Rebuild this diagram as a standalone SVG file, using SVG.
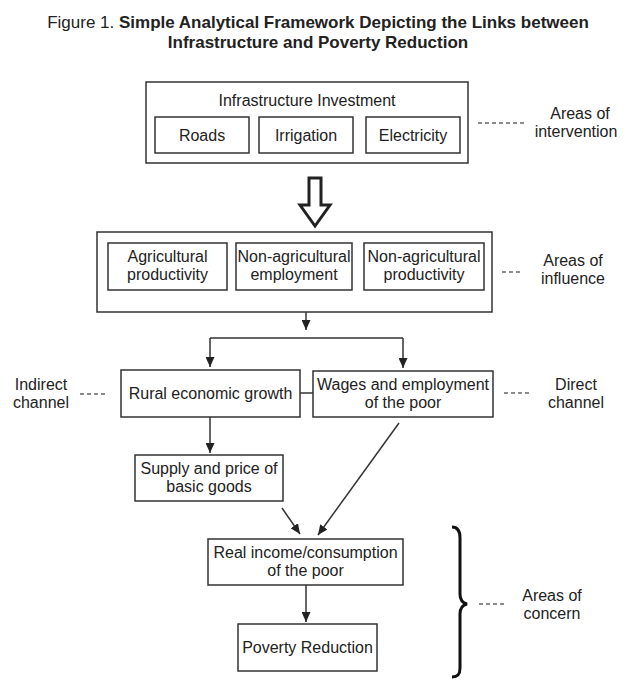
<svg xmlns="http://www.w3.org/2000/svg" width="631" height="680" viewBox="0 0 631 680">
<style>
  .box { fill: #fff; stroke: #333; stroke-width: 1.5; }
  .t { font-family: "Liberation Sans", Arial, sans-serif; font-size: 16px; fill: #222; text-anchor: middle; }
  .title { font-family: "Liberation Sans", Arial, sans-serif; font-size: 17px; fill: #222; text-anchor: middle; }
  .conn { fill: none; stroke: #333; stroke-width: 1.5; }
  .dash { fill: none; stroke: #666; stroke-width: 1.5; stroke-dasharray: 4 3; }
</style>
<defs>
  <marker id="ah" markerUnits="userSpaceOnUse" markerWidth="10" markerHeight="9" refX="10" refY="4.5" orient="auto">
    <path d="M0,0 L10,4.5 L0,9 z" fill="#222"/>
  </marker>
</defs>
<rect width="631" height="680" fill="#fff"/>

<g id="title">
  <text class="title" x="318" y="28"><tspan>Figure 1. </tspan><tspan font-weight="bold">Simple Analytical Framework Depicting the Links between</tspan></text>
  <text class="title" x="318" y="48" font-weight="bold">Infrastructure and Poverty Reduction</text>
</g>

<g id="infrastructure-investment">
  <rect class="box" x="146" y="82" width="322" height="81"/>
  <text class="t" x="307" y="106">Infrastructure Investment</text>
</g>
<g id="roads">
  <rect class="box" x="155" y="117" width="94" height="36"/>
  <text class="t" x="202" y="141">Roads</text>
</g>
<g id="irrigation">
  <rect class="box" x="259" y="117" width="94" height="36"/>
  <text class="t" x="306" y="141">Irrigation</text>
</g>
<g id="electricity">
  <rect class="box" x="366" y="117" width="94" height="36"/>
  <text class="t" x="413" y="141">Electricity</text>
</g>
<g id="label-intervention">
  <line class="dash" x1="478" y1="123" x2="527" y2="123"/>
  <text class="t" x="580" y="119">Areas of</text>
  <text class="t" x="576" y="137">intervention</text>
</g>

<g id="areas-of-influence">
  <rect class="box" x="97" y="232" width="395" height="80"/>
</g>
<g id="agricultural-productivity">
  <rect class="box" x="108" y="243" width="119" height="47"/>
  <text class="t" x="167.5" y="262">Agricultural</text>
  <text class="t" x="167.5" y="280">productivity</text>
</g>
<g id="non-agricultural-employment">
  <rect class="box" x="236" y="243" width="116" height="47"/>
  <text class="t" x="294" y="262">Non-agricultural</text>
  <text class="t" x="294" y="280">employment</text>
</g>
<g id="non-agricultural-productivity">
  <rect class="box" x="364" y="243" width="120" height="47"/>
  <text class="t" x="424" y="262">Non-agricultural</text>
  <text class="t" x="424" y="280">productivity</text>
</g>
<g id="label-influence">
  <line class="dash" x1="502" y1="272" x2="521" y2="272"/>
  <text class="t" x="573" y="266">Areas of</text>
  <text class="t" x="573" y="284">influence</text>
</g>

<g id="rural-economic-growth">
  <rect class="box" x="121" y="370" width="179" height="47"/>
  <text class="t" x="210.5" y="399">Rural economic growth</text>
</g>
<g id="wages-employment">
  <rect class="box" x="313" y="371" width="180" height="46"/>
  <text class="t" x="403" y="390">Wages and employment</text>
  <text class="t" x="403" y="408">of the poor</text>
</g>
<g id="label-indirect">
  <text class="t" x="41" y="390">Indirect</text>
  <text class="t" x="41" y="408">channel</text>
  <line class="dash" x1="80" y1="394" x2="107" y2="394"/>
</g>
<g id="label-direct">
  <line class="dash" x1="504" y1="393" x2="532" y2="393"/>
  <text class="t" x="576" y="390">Direct</text>
  <text class="t" x="576" y="408">channel</text>
</g>

<g id="supply-price">
  <rect class="box" x="135" y="455" width="148" height="46"/>
  <text class="t" x="209" y="474">Supply and price of</text>
  <text class="t" x="209" y="492">basic goods</text>
</g>
<g id="real-income">
  <rect class="box" x="208" y="539" width="195" height="46"/>
  <text class="t" x="305.5" y="558">Real income/consumption</text>
  <text class="t" x="305.5" y="576">of the poor</text>
</g>
<g id="poverty-reduction">
  <rect class="box" x="238" y="624" width="139" height="47"/>
  <text class="t" x="307.5" y="653">Poverty Reduction</text>
</g>
<g id="label-concern">
  <path d="M452,527 C458,527 460,531 460,538 L460,594 C460,600 463,603 467,604 C463,605 460,608 460,614 L460,668 C460,674 458,677 452,677" fill="none" stroke="#111" stroke-width="3"/>
  <line class="dash" x1="479" y1="604" x2="507" y2="604"/>
  <text class="t" x="552" y="601">Areas of</text>
  <text class="t" x="552" y="619">concern</text>
</g>

<g id="connectors">
  <path d="M309,178 L321,178 L321,205 L330,205 L315,226 L300,205 L309,205 Z" fill="#fff" stroke="#222" stroke-width="3" stroke-linejoin="miter"/>
  <line class="conn" x1="306" y1="312" x2="306" y2="330" marker-end="url(#ah)"/>
  <line class="conn" x1="210" y1="338" x2="403" y2="338"/>
  <line class="conn" x1="210" y1="338" x2="210" y2="367" marker-end="url(#ah)"/>
  <line class="conn" x1="403" y1="338" x2="403" y2="368" marker-end="url(#ah)"/>
  <line class="conn" x1="300" y1="393" x2="313" y2="393"/>
  <line class="conn" x1="210" y1="417" x2="210" y2="453" marker-end="url(#ah)"/>
  <line class="conn" x1="282" y1="508" x2="300" y2="534" marker-end="url(#ah)"/>
  <line class="conn" x1="399" y1="423" x2="318" y2="535" marker-end="url(#ah)"/>
  <line class="conn" x1="306" y1="585" x2="306" y2="622" marker-end="url(#ah)"/>
</g>
</svg>
